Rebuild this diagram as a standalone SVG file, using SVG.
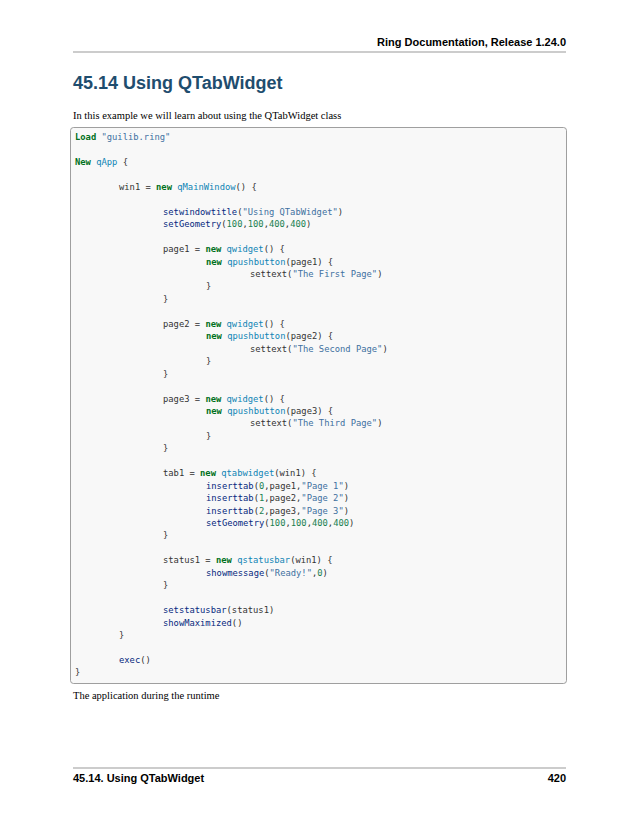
<svg xmlns="http://www.w3.org/2000/svg" width="638" height="825" viewBox="0 0 638 825">
<style>
.h{font-family:"Liberation Sans",Arial,sans-serif;font-weight:bold;fill:#000}
.b{font-family:"Liberation Serif","Times New Roman",serif;font-size:10.5px;fill:#000}
.c{font-family:"DejaVu Sans Mono",monospace;font-size:8.8px;fill:#333}
.k{fill:#007020;font-weight:bold}
.n{fill:#0e84b5}
.f{fill:#06287e}
.s{fill:#4070a0}
.d{fill:#208050}
</style>
<rect width="638" height="825" fill="#fff"/>
<g id="header">
<text class="h" x="566" y="46" font-size="11" text-anchor="end">Ring Documentation, Release 1.24.0</text>
<line x1="73" y1="52" x2="566" y2="52" stroke="#999" stroke-width="1"/>
<text class="h" x="73" y="89" font-size="18" style="fill:#1f4d6e">45.14  Using QTabWidget</text>
<text class="b" x="73" y="119">In this example we will learn about using the QTabWidget class</text>
</g>
<g id="code">
<rect x="70.5" y="127.5" width="496" height="556" rx="3" fill="#f8f8f8" stroke="#888" stroke-width="0.8"/>
<text class="c" xml:space="preserve" transform="translate(0,3)">
<tspan x="75" y="137"><tspan class="k">Load</tspan> <tspan class="s">"guilib.ring"</tspan></tspan>
<tspan x="75" y="161.9"><tspan class="k">New</tspan> <tspan class="n">qApp</tspan> {</tspan>
<tspan x="119" y="186.8">win1 = <tspan class="k">new</tspan> <tspan class="n">qMainWindow</tspan>() {</tspan>
<tspan x="163" y="211.7"><tspan class="f">setwindowtitle</tspan>(<tspan class="s">"Using QTabWidget"</tspan>)</tspan>
<tspan x="163" y="224.2"><tspan class="f">setGeometry</tspan>(<tspan class="d">100</tspan>,<tspan class="d">100</tspan>,<tspan class="d">400</tspan>,<tspan class="d">400</tspan>)</tspan>
<tspan x="163" y="249.1">page1 = <tspan class="k">new</tspan> <tspan class="n">qwidget</tspan>() {</tspan>
<tspan x="206" y="261.5"><tspan class="k">new</tspan> <tspan class="n">qpushbutton</tspan>(page1) {</tspan>
<tspan x="250" y="274">settext(<tspan class="s">"The First Page"</tspan>)</tspan>
<tspan x="206" y="286.4">}</tspan>
<tspan x="163" y="298.9">}</tspan>
<tspan x="163" y="323.8">page2 = <tspan class="k">new</tspan> <tspan class="n">qwidget</tspan>() {</tspan>
<tspan x="206" y="336.2"><tspan class="k">new</tspan> <tspan class="n">qpushbutton</tspan>(page2) {</tspan>
<tspan x="250" y="348.7">settext(<tspan class="s">"The Second Page"</tspan>)</tspan>
<tspan x="206" y="361.1">}</tspan>
<tspan x="163" y="373.6">}</tspan>
<tspan x="163" y="398.5">page3 = <tspan class="k">new</tspan> <tspan class="n">qwidget</tspan>() {</tspan>
<tspan x="206" y="410.9"><tspan class="k">new</tspan> <tspan class="n">qpushbutton</tspan>(page3) {</tspan>
<tspan x="250" y="423.4">settext(<tspan class="s">"The Third Page"</tspan>)</tspan>
<tspan x="206" y="435.8">}</tspan>
<tspan x="163" y="448.3">}</tspan>
<tspan x="163" y="473.2">tab1 = <tspan class="k">new</tspan> <tspan class="n">qtabwidget</tspan>(win1) {</tspan>
<tspan x="206" y="485.6"><tspan class="f">inserttab</tspan>(<tspan class="d">0</tspan>,page1,<tspan class="s">"Page 1"</tspan>)</tspan>
<tspan x="206" y="498.1"><tspan class="f">inserttab</tspan>(<tspan class="d">1</tspan>,page2,<tspan class="s">"Page 2"</tspan>)</tspan>
<tspan x="206" y="510.5"><tspan class="f">inserttab</tspan>(<tspan class="d">2</tspan>,page3,<tspan class="s">"Page 3"</tspan>)</tspan>
<tspan x="206" y="523"><tspan class="f">setGeometry</tspan>(<tspan class="d">100</tspan>,<tspan class="d">100</tspan>,<tspan class="d">400</tspan>,<tspan class="d">400</tspan>)</tspan>
<tspan x="163" y="535.4">}</tspan>
<tspan x="163" y="560.3">status1 = <tspan class="k">new</tspan> <tspan class="n">qstatusbar</tspan>(win1) {</tspan>
<tspan x="206" y="572.8"><tspan class="f">showmessage</tspan>(<tspan class="s">"Ready!"</tspan>,<tspan class="d">0</tspan>)</tspan>
<tspan x="163" y="585.2">}</tspan>
<tspan x="163" y="610.1"><tspan class="f">setstatusbar</tspan>(status1)</tspan>
<tspan x="163" y="622.6"><tspan class="f">showMaximized</tspan>()</tspan>
<tspan x="119" y="635">}</tspan>
<tspan x="119" y="659.9"><tspan class="f">exec</tspan>()</tspan>
<tspan x="75" y="672.4">}</tspan>
</text>
</g>
<g id="footer">
<text class="b" x="73" y="699">The application during the runtime</text>
<line x1="73" y1="768" x2="566" y2="768" stroke="#999" stroke-width="1"/>
<text class="h" x="73" y="782" font-size="11">45.14. Using QTabWidget</text>
<text class="h" x="566" y="782" font-size="11" text-anchor="end">420</text>
</g>
</svg>
